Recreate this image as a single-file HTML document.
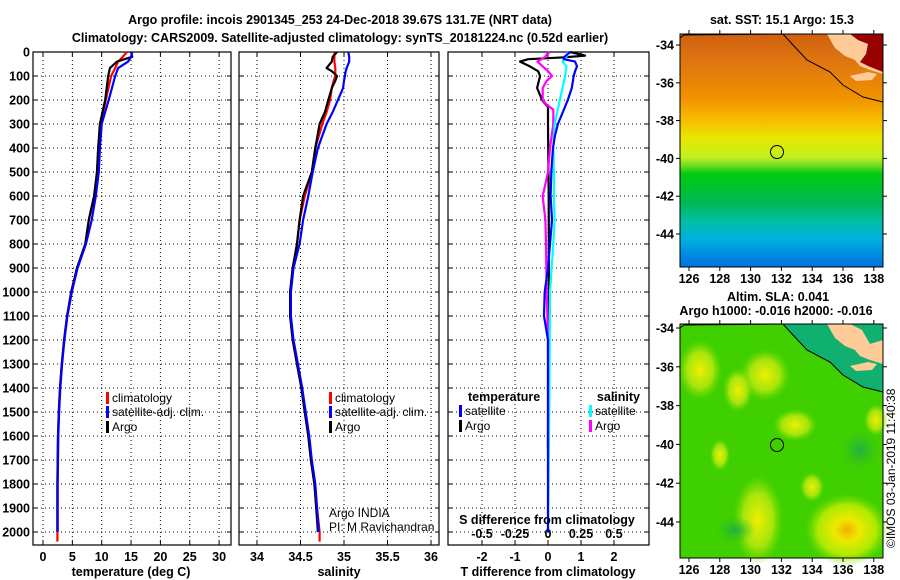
<!DOCTYPE html>
<html><head><meta charset="utf-8"><style>
html,body{margin:0;padding:0;background:#fff;}
svg{display:block;font-family:"Liberation Sans",sans-serif;}
.b{font-weight:bold;font-size:12.5px;}
</style></head><body>
<svg id="c" width="900" height="580" viewBox="0 0 900 580">
<defs>
<linearGradient id="sst" x1="0" y1="0" x2="0" y2="1">
<stop offset="0" stop-color="#d06010"/><stop offset="0.13" stop-color="#e07810"/>
<stop offset="0.27" stop-color="#f09000"/><stop offset="0.36" stop-color="#f8b800"/>
<stop offset="0.45" stop-color="#e8e800"/><stop offset="0.53" stop-color="#c0f020"/>
<stop offset="0.57" stop-color="#60d820"/><stop offset="0.6" stop-color="#00cc10"/>
<stop offset="0.72" stop-color="#00b850"/><stop offset="0.8" stop-color="#00c0a0"/>
<stop offset="0.88" stop-color="#00b0e0"/><stop offset="1" stop-color="#0070e0"/>
</linearGradient>
<radialGradient id="blob"><stop offset="0" stop-color="#f0f000"/><stop offset="0.6" stop-color="#c0ea10" stop-opacity="0.8"/><stop offset="1" stop-color="#80e000" stop-opacity="0"/></radialGradient>
<radialGradient id="blobo"><stop offset="0" stop-color="#f0b000"/><stop offset="0.3" stop-color="#f0e800"/><stop offset="0.7" stop-color="#c8f000" stop-opacity="0.8"/><stop offset="1" stop-color="#80e000" stop-opacity="0"/></radialGradient>
<radialGradient id="dblob"><stop offset="0" stop-color="#20b040"/><stop offset="1" stop-color="#30c020" stop-opacity="0"/></radialGradient>
</defs>
<g id="titles">
<text class="b" x="340" y="24" text-anchor="middle" font-size="13.5">Argo profile: incois 2901345_253 24-Dec-2018 39.67S 131.7E (NRT data)</text>
<text class="b" x="340" y="42" text-anchor="middle" font-size="13.5">Climatology: CARS2009. Satellite-adjusted climatology: synTS_20181224.nc (0.52d earlier)</text>
</g>
<g id="panels"></g>
<g id="maps">
<g>
<text class="b" x="782" y="24" text-anchor="middle">sat. SST: 15.1 Argo: 15.3</text>
<rect x="680" y="34" width="203" height="233" fill="url(#sst)"/>
<path d="M827,34 L883,34 L883,74 L870,70 L860,66 L855,60 L845,56 L835,48 Z" fill="#ffcc99"/>
<path d="M850,34 L883,34 L883,72 L868,66 L860,62 L866,54 L868,44 L858,40 Z" fill="#990000"/>
<path d="M850,76 L868,72 L877,74 L872,80 L856,81 Z" fill="#ffcc99"/>
<path d="M680,38 L684,35 L783,34 L793,45 L807,60 L830,72 L843,85 L863,97 L883,102" fill="none" stroke="#000" stroke-width="1"/>
<circle cx="777" cy="152" r="6.5" fill="none" stroke="#000" stroke-width="1"/>
</g>
<g>
<text class="b" x="778" y="301" text-anchor="middle">Altim. SLA: 0.041</text>
<text class="b" x="776" y="315" text-anchor="middle">Argo h1000: -0.016 h2000: -0.016</text>
<rect x="680" y="324" width="203" height="234" fill="#40d000"/>
<ellipse cx="700" cy="370" rx="22" ry="30" fill="url(#blob)"/>
<ellipse cx="765" cy="375" rx="25" ry="26" fill="url(#blob)"/>
<ellipse cx="738" cy="390" rx="15" ry="22" fill="url(#blob)"/>
<ellipse cx="795" cy="425" rx="22" ry="16" fill="url(#blob)"/>
<ellipse cx="720" cy="455" rx="10" ry="16" fill="url(#blob)"/>
<ellipse cx="758" cy="520" rx="25" ry="45" fill="url(#blob)"/>
<ellipse cx="812" cy="487" rx="12" ry="15" fill="url(#blob)"/>
<ellipse cx="847" cy="530" rx="42" ry="36" fill="url(#blobo)"/>
<ellipse cx="876" cy="420" rx="12" ry="16" fill="url(#blob)"/>
<ellipse cx="735" cy="530" rx="20" ry="14" fill="url(#dblob)"/>
<ellipse cx="860" cy="450" rx="20" ry="20" fill="url(#dblob)"/>
<path d="M783,324 L883,324 L883,392 L863,387 L843,375 L830,362 L807,350 L793,335 Z" fill="#10b070"/>
<path d="M827,324 L883,324 L883,364 L870,360 L860,356 L855,350 L845,346 L835,338 Z" fill="#ffcc99"/>
<path d="M850,324 L883,324 L883,340 L870,344 L862,330 Z" fill="#10b070"/>
<path d="M850,366 L868,362 L877,364 L872,370 L856,371 Z" fill="#ffcc99"/>
<path d="M680,328 L684,325 L783,324 L793,335 L807,350 L830,362 L843,375 L863,387 L883,392" fill="none" stroke="#000" stroke-width="1"/>
<circle cx="777" cy="445" r="6.5" fill="none" stroke="#000" stroke-width="1"/>
<text x="895" y="548" font-size="12" transform="rotate(-90 895 548)">©IMOS 03-Jan-2019 11:40:38</text>
</g>
<g id="mapaxes"></g>
</g>
</svg>
<script>
// ---------- data ----------
const tempDepth   = [0,20,40,67,100,200,300,400,500,600,700,800,900,1000,1100,1200,1300,1400,1500,1600,1800,2000];
const tempArgo    = [15.0,15.2,12.6,11.4,11.1,10.6,9.7,9.4,9.2,8.7,7.8,7.2,5.8,4.8,4.1,3.6,3.2,2.9,2.7,2.55,2.45,2.45];
const tempClim    = [14.3,13.6,12.8,12.3,11.6,10.7,9.8,9.4,9.2,8.7,7.8,7.2,5.8,4.8,4.1,3.6,3.2,2.9,2.7,2.55,2.45,2.45];
const tempSat     = [15.2,15.0,14.5,12.8,12.3,11.2,10.0,9.7,9.5,9.0,8.3,7.3,5.9,4.9,4.15,3.65,3.25,2.95,2.75,2.6,2.5,2.5];
const salDepth    = [0,20,40,67,80,100,120,150,200,250,300,400,500,600,700,800,900,1000,1100,1200,1300,1400,1500,1600,1700,1800,1900,2000];
const salArgo     = [34.92,34.87,34.86,34.80,34.86,34.92,34.90,34.86,34.82,34.78,34.72,34.67,34.63,34.53,34.49,34.46,34.41,34.38,34.38,34.41,34.46,34.51,34.55,34.59,34.62,34.66,34.68,34.70];
const salClim     = [34.89,34.89,34.89,34.90,34.90,34.90,34.88,34.86,34.84,34.80,34.75,34.67,34.63,34.55,34.49,34.46,34.41,34.38,34.38,34.41,34.46,34.51,34.55,34.59,34.62,34.66,34.69,34.72];
const salSat      = [35.05,35.06,35.06,35.03,35.02,35.01,35.00,34.99,34.93,34.87,34.80,34.70,34.64,34.59,34.53,34.49,34.42,34.39,34.39,34.42,34.47,34.52,34.56,34.60,34.63,34.67,34.69,34.71];
const dtArgoDepth = [0,15,22,30,40,60,80,100,150,200,230,300,600,1000,1300,1650];
const dtArgo      = [0.67,1.12,0.5,-0.6,-0.85,-0.55,-0.3,-0.24,-0.33,-0.18,0,0,0.02,0.03,0.01,0];
const dtSatDepth  = [0,20,30,40,60,80,100,150,200,250,300,350,400,500,600,700,800,900,1000,1100,1200,1500,2000];
const dtSat       = [0.67,0.5,0.48,0.82,0.88,0.82,0.78,0.72,0.6,0.45,0.3,0.21,0.15,0.1,0.08,0.12,0.06,0,-0.1,-0.12,0,0,0];
const dsArgoDepth = [0,10,20,40,60,80,100,120,150,200,220,240,300,400,500,550,600,650,700,800,1000,1200,1650];
const dsArgo      = [0.015,-0.01,-0.02,-0.08,-0.04,0,0.03,-0.01,-0.04,-0.04,-0.01,0.04,0.04,0.015,0,-0.02,-0.04,-0.03,-0.02,-0.015,-0.01,0,0];
const dsSatDepth  = [0,20,40,60,100,150,200,250,300,400,500,600,700,800,1000,1500,2000];
const dsSat       = [0.15,0.14,0.11,0.14,0.13,0.11,0.09,0.07,0.05,0.04,0.045,0.045,0.05,0.04,0.015,0.01,0];
const depthTicks  = [0,100,200,300,400,500,600,700,800,900,1000,1100,1200,1300,1400,1500,1600,1700,1800,1900,2000];
const tempTicks   = [0,5,10,15,20,25,30];
const salTicks    = [34,34.5,35,35.5,36];
const dtTicks     = [-2,-1,0,1,2];
const dsTicks     = [-0.5,-0.25,0,0.25,0.5];
const lonTicks    = [126,128,130,132,134,136,138];
const latTicks    = [-34,-36,-38,-40,-42,-44];

// ---------- scales ----------
const yD = d => 52 + d*0.24;
const xT = t => 43 + t*5.87;
const xS = s => 257 + (s-34)*87;
const xDT = v => 548 + v*33;
const xDS = v => 548 + v*132;
const NS='http://www.w3.org/2000/svg';
const P=document.getElementById('panels');
function mk(tag,attrs,parent,txt){const e=document.createElementNS(NS,tag);for(const k in attrs)e.setAttribute(k,attrs[k]);if(txt!==undefined)e.textContent=txt;(parent||P).appendChild(e);return e;}

const panels=[{x0:33,x1:231,name:'temperature-panel'},{x0:239,x1:439,name:'salinity-panel'},{x0:448,x1:649,name:'difference-panel'}];
panels.forEach(p=>{
  const g=mk('g',{});
  
  
  p.g=g;
  depthTicks.forEach(d=>{ if(d>0) mk('line',{x1:p.x0,x2:p.x1,y1:yD(d),y2:yD(d),stroke:'#000','stroke-width':1,'stroke-dasharray':'1,3'},g);
    mk('line',{x1:p.x0,x2:p.x0+4,y1:yD(d),y2:yD(d),stroke:'#000'},g);
    mk('line',{x1:p.x1-4,x2:p.x1,y1:yD(d),y2:yD(d),stroke:'#000'},g);});
});
function vgrid(p,ticks,sc){ticks.forEach(t=>{const x=sc(t);mk('line',{x1:x,x2:x,y1:52,y2:545,stroke:'#000','stroke-dasharray':'1,3'},p.g);
  mk('line',{x1:x,x2:x,y1:541,y2:545,stroke:'#000'},p.g);mk('line',{x1:x,x2:x,y1:52,y2:56,stroke:'#000'},p.g);});}
vgrid(panels[0],tempTicks,xT);vgrid(panels[1],salTicks,xS);vgrid(panels[2],dtTicks,xDT);

depthTicks.forEach(d=>{const t=mk('text',{x:30,y:yD(d)+4.5,'text-anchor':'end','class':'b'},P,String(d));
  
  });
function xlabels(ticks,sc,y){ticks.forEach(v=>{const t=mk('text',{x:sc(v),y:y,'text-anchor':'middle','class':'b'},P,String(v));
  
  });}
xlabels(tempTicks,xT,561);xlabels(salTicks,xS,561);xlabels(dtTicks,xDT,561);
xlabels(dsTicks,xDS,538);

function line(depths,vals,sc,color,name,w){
  const pts=depths.map((d,i)=>sc(vals[i]).toFixed(1)+','+yD(d).toFixed(1)).join(' ');
  const e=mk('polyline',{points:pts,fill:'none',stroke:color,'stroke-width':w||2.2,'stroke-linejoin':'round'});
  
  
}
line(tempDepth.concat([2040]),tempClim.concat([2.45]),xT,'#ff0000','temp-climatology-line');
line(tempDepth,tempArgo,xT,'#000000','temp-argo-line');
line(tempDepth,tempSat,xT,'#0000ff','temp-satellite-line');
line(salDepth.concat([2040]),salClim.concat([34.72]),xS,'#ff0000','sal-climatology-line');
line(salDepth,salArgo,xS,'#000000','sal-argo-line');
line(salDepth,salSat,xS,'#0000ff','sal-satellite-line');
line(dtArgoDepth,dtArgo,xDT,'#000000','tdiff-argo-line');
line(dsArgoDepth,dsArgo,xDS,'#ff00ff','sdiff-argo-line');
line(dsSatDepth,dsSat,xDS,'#00ffff','sdiff-satellite-line');
line(dtSatDepth,dtSat,xDT,'#0000ff','tdiff-satellite-line');

panels.forEach(p=>{mk('rect',{x:p.x0,y:52,width:p.x1-p.x0,height:493,fill:'none',stroke:'#000','stroke-width':1.2},p.g);});

[['temperature (deg C)',131,'x-axis-title-temperature'],['salinity',339,'x-axis-title-salinity'],['T difference from climatology',548,'x-axis-title-tdiff']].forEach(a=>{
  const t=mk('text',{x:a[1],y:576,'text-anchor':'middle','class':'b'},P,a[0]);
  
  });
const sd=mk('text',{x:547,y:524,'text-anchor':'middle','class':'b'},P,'S difference from climatology');



function leg(x,y,color,label,name){
  const r=mk('rect',{x:x,y:y-10,width:3,height:12,fill:color});
  
  
  const t=mk('text',{x:x+6,y:y,'font-size':12},P,label);
  
  
}
leg(106,402,'#ff0000','climatology','legend-climatology');
leg(106,416,'#0000ff','satellite-adj. clim.','legend-satellite-adj');
leg(106,431,'#000000','Argo','legend-argo');
leg(329,402,'#ff0000','climatology','legend-climatology-sal');
leg(329,416,'#0000ff','satellite-adj. clim.','legend-satellite-adj-sal');
leg(329,431,'#000000','Argo','legend-argo-sal');
const lt=mk('text',{x:468,y:401,'class':'b'},P,'temperature');


const ls=mk('text',{x:640,y:401,'class':'b','text-anchor':'end'},P,'salinity');


leg(459,415,'#0000ff','satellite','legend-t-satellite');
leg(459,430,'#000000','Argo','legend-t-argo');
leg(589,415,'#00ffff','satellite','legend-s-satellite');
leg(589,430,'#ff00ff','Argo','legend-s-argo');
const a1=mk('text',{x:329,y:517,'font-size':12},P,'Argo INDIA');


const a2=mk('text',{x:329,y:531,'font-size':12},P,'PI: M Ravichandran');



const MA=document.getElementById('mapaxes');
const xLon=l=>689+(l-126)*15.4;
[[34,267,45,18.9],[324,558,328,19.4]].forEach(m=>{
  const [top,bot,lat34,pd]=m;
  mk('rect',{x:680,y:top,width:203,height:bot-top,fill:'none',stroke:'#000'},MA);
  lonTicks.forEach(l=>{const x=xLon(l);mk('line',{x1:x,x2:x,y1:bot,y2:bot+4,stroke:'#000'},MA);mk('line',{x1:x,x2:x,y1:top-4,y2:top,stroke:'#000'},MA);
    const t=mk('text',{x:x,y:bot+16,'text-anchor':'middle','class':'b'},MA,String(l));
    
    });
  latTicks.forEach(la=>{const y=lat34+(-34-la)*pd;mk('line',{x1:676,x2:680,y1:y,y2:y,stroke:'#000'},MA);mk('line',{x1:883,x2:887,y1:y,y2:y,stroke:'#000'},MA);
    const t=mk('text',{x:674,y:y+4.5,'text-anchor':'end','class':'b'},MA,String(la));
    
    });
});
</script>
</body></html>
